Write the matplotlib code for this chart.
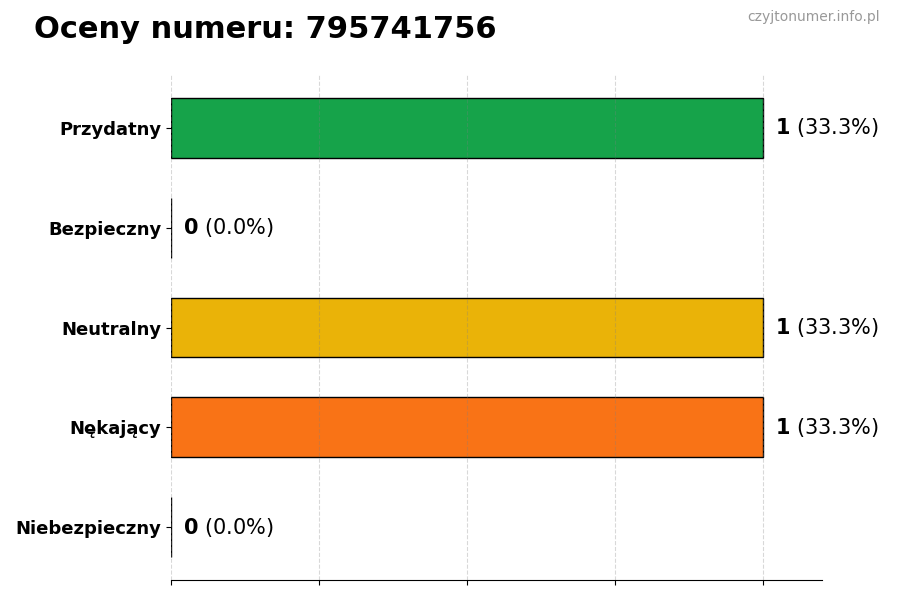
import matplotlib
matplotlib.use('Agg')
import matplotlib.pyplot as plt

number = '795741756'
categories = ['Przydatny', 'Bezpieczny', 'Neutralny', 'Nękający', 'Niebezpieczny']
counts = [1, 0, 1, 1, 0]
colors = ['#16a34a', '#3b82f6', '#eab308', '#f97316', '#dc2626']

total = sum(counts)
max_count = max(counts)

fig = plt.figure(figsize=(9, 6), dpi=100)
ax = fig.add_axes([0.19, 0.0333, 0.7233, 0.8417])

y = list(range(len(categories)))
ax.barh(y, counts, height=0.6, color=colors, edgecolor='black', linewidth=1)
ax.invert_yaxis()
ax.set_yticks(y)
ax.set_yticklabels(categories, fontsize=13, fontweight='bold')
ax.set_xlim(0, max_count * 1.1)
ax.set_xticks([0, 0.25, 0.5, 0.75, 1.0])
ax.set_xticklabels([])
ax.grid(axis='x', linestyle='--', color='gray', alpha=0.3, linewidth=0.8)
for side in ['top', 'right', 'left']:
    ax.spines[side].set_visible(False)

for i, c in enumerate(counts):
    pct = c / total * 100 if total else 0
    ax.text(c + max_count * 0.02, i, rf'$\mathbf{{{c}}}$ ({pct:.1f}%)',
            va='center', ha='left', fontsize=15)

fig.text(0.038, 0.95, f'Oceny numeru: {number}', fontsize=22, fontweight='bold',
         ha='left', va='center')
fig.text(0.978, 0.971, 'czyjtonumer.info.pl', fontsize=10, color='#999999',
         ha='right', va='center')

fig.savefig('out.png', dpi=100)
